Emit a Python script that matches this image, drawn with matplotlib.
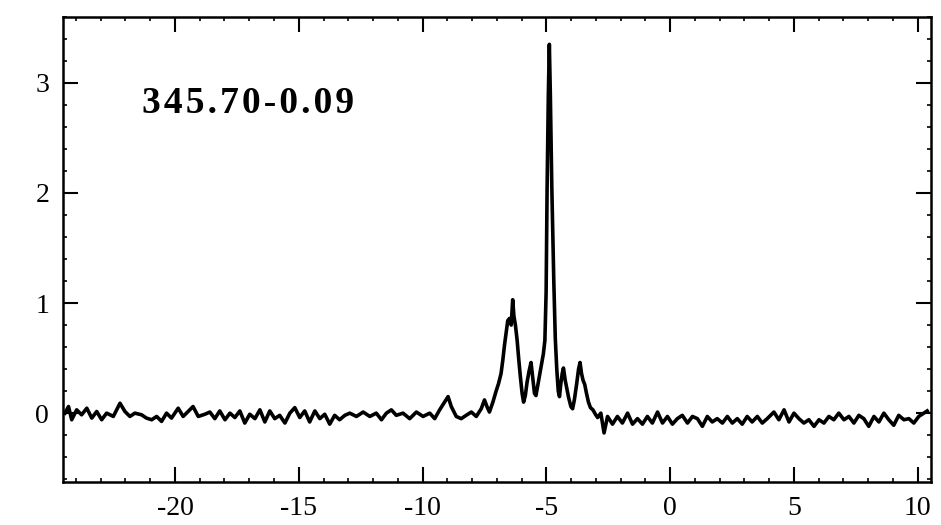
import numpy as np
from matplotlib import pyplot as plt
from matplotlib.ticker import MultipleLocator

plt.rcParams['font.family'] = ['Liberation Serif', 'DejaVu Serif']
plt.rcParams['axes.unicode_minus'] = False

velocidade = [
    -24.44, -24.30, -24.17, -23.97, -23.77, -23.56, -23.36, -23.16, -22.96, -22.76,
    -22.49, -22.22, -22.02, -21.82, -21.62, -21.35, -21.15, -20.94, -20.74, -20.54,
    -20.34, -20.14, -19.87, -19.67, -19.47, -19.27, -19.06,
    -18.79, -18.59, -18.39, -18.19, -17.98, -17.78, -17.58, -17.38, -17.18, -16.98,
    -16.77, -16.57, -16.37, -16.17, -15.97, -15.77, -15.56, -15.36, -15.16, -14.96,
    -14.76, -14.56, -14.35, -14.15, -13.95, -13.75, -13.55, -13.35, -13.14,
    -12.94, -12.67, -12.40, -12.13, -11.87, -11.66, -11.46, -11.26, -11.06, -10.79,
    -10.52, -10.25, -9.98, -9.71, -9.51, -9.31, -9.11, -8.97, -8.84, -8.64,
    -8.44, -8.24, -8.03, -7.83,
    -7.63, -7.50, -7.40, -7.30, -7.16, -7.03, -6.93, -6.83, -6.76, -6.69,
    -6.62, -6.56, -6.49, -6.42, -6.36, -6.31, -6.25, -6.18, -6.12, -6.05,
    -5.98, -5.92, -5.85, -5.78, -5.70, -5.62, -5.55, -5.48, -5.42, -5.35,
    -5.28, -5.20, -5.12, -5.06, -5.01, -4.97, -4.92, -4.88, -4.84, -4.78,
    -4.70, -4.64, -4.58, -4.52, -4.47, -4.42, -4.36, -4.31, -4.24, -4.17,
    -4.10, -4.01, -3.94, -3.87, -3.78, -3.70, -3.64, -3.58, -3.52, -3.45,
    -3.38, -3.30, -3.22, -3.12, -3.02, -2.93, -2.80, -2.67, -2.53, -2.33,
    -2.13, -1.93, -1.72, -1.52, -1.32, -1.12, -0.92, -0.72, -0.51, -0.31,
    -0.11, 0.09, 0.29, 0.49, 0.70, 0.90, 1.10, 1.30, 1.50, 1.70,
    1.90, 2.11, 2.31, 2.51, 2.71, 2.91, 3.11, 3.31, 3.52, 3.72,
    3.92, 4.19, 4.39, 4.60, 4.80, 5.00, 5.20, 5.40, 5.60, 5.81,
    6.01, 6.21, 6.41, 6.61, 6.81, 7.02, 7.22, 7.42, 7.62, 7.82,
    8.02, 8.23, 8.43, 8.63, 8.83, 9.03, 9.23, 9.44, 9.64, 9.84,
    10.04, 10.24, 10.38,
]
fluxo = [
    0.00, 0.06, -0.06, 0.03, -0.015, 0.045, -0.045, 0.015, -0.06, 0.00,
    -0.03, 0.09, 0.015, -0.03, 0.00, -0.015, -0.045, -0.06, -0.03, -0.075,
    0.00, -0.045, 0.045, -0.03, 0.015, 0.06, -0.03,
    -0.01, 0.01, -0.05, 0.02, -0.06, 0.00, -0.04, 0.02, -0.09, -0.01,
    -0.05, 0.03, -0.08, 0.02, -0.05, -0.02, -0.09, 0.00, 0.05, -0.04,
    0.02, -0.08, 0.02, -0.05, -0.01, -0.10, -0.02, -0.06, -0.02,
    0.00, -0.03, 0.01, -0.03, 0.00, -0.06, 0.00, 0.03, -0.02, 0.00,
    -0.05, 0.01, -0.03, 0.00, -0.05, 0.03, 0.10, 0.15, 0.06, -0.03,
    -0.05, -0.02, 0.01, -0.03,
    0.04, 0.12, 0.06, 0.01, 0.10, 0.20, 0.27, 0.36, 0.48, 0.62,
    0.74, 0.84, 0.86, 0.80, 1.03, 0.88, 0.80, 0.66, 0.50, 0.33,
    0.18, 0.10, 0.16, 0.28, 0.38, 0.46, 0.32, 0.18, 0.16, 0.25,
    0.34, 0.44, 0.54, 0.66, 1.10, 2.05, 2.90, 3.35, 2.90, 2.05,
    1.20, 0.68, 0.40, 0.20, 0.15, 0.26, 0.36, 0.41, 0.30, 0.22,
    0.14, 0.06, 0.04, 0.12, 0.26, 0.40, 0.46, 0.36, 0.30, 0.26,
    0.18, 0.10, 0.05, 0.03, -0.01, -0.04, 0.00, -0.18, -0.03, -0.10,
    -0.03, -0.09, 0.00, -0.10, -0.05, -0.10, -0.03, -0.09, 0.01, -0.09,
    -0.03, -0.10, -0.05, -0.02, -0.09, -0.03, -0.05, -0.12, -0.03, -0.08,
    -0.05, -0.09, -0.03, -0.09, -0.05, -0.10, -0.03, -0.08, -0.03, -0.09,
    -0.05, 0.01, -0.06, 0.03, -0.08, 0.00, -0.05, -0.09, -0.06, -0.12,
    -0.06, -0.09, -0.03, -0.06, 0.00, -0.06, -0.03, -0.09, -0.02, -0.05,
    -0.12, -0.03, -0.08, 0.00, -0.06, -0.11, -0.02, -0.06, -0.05, -0.09,
    -0.03, 0.00, 0.02,
]

fonte = '345.70-0.09'

fig = plt.figure(figsize=(9.41, 5.25), dpi=100)
ax = fig.add_axes([0.067, 0.082, 0.922, 0.886])

ax.plot(velocidade, fluxo, color='black', linewidth=2.6)

ax.set_xlim(-24.52, 10.52)
ax.set_ylim(-0.625, 3.6)
ax.xaxis.set_major_locator(MultipleLocator(5))
ax.xaxis.set_minor_locator(MultipleLocator(1))
ax.yaxis.set_major_locator(MultipleLocator(1))
ax.yaxis.set_minor_locator(MultipleLocator(0.2))
ax.tick_params(which='both', direction='in', top=True, right=True)
ax.tick_params(which='major', length=11, width=1.5, labelsize=20, pad=10)
ax.tick_params(which='minor', length=3, width=1.2)
for s in ax.spines.values():
    s.set_linewidth(1.8)

# espaçamento entre letras como no original
rotulo = '\u200a'.join(fonte)
ax.text(-21.33, 2.81, rotulo, fontsize=27, fontweight='bold', ha='left', va='center')

plt.savefig('out.png', dpi=100)
